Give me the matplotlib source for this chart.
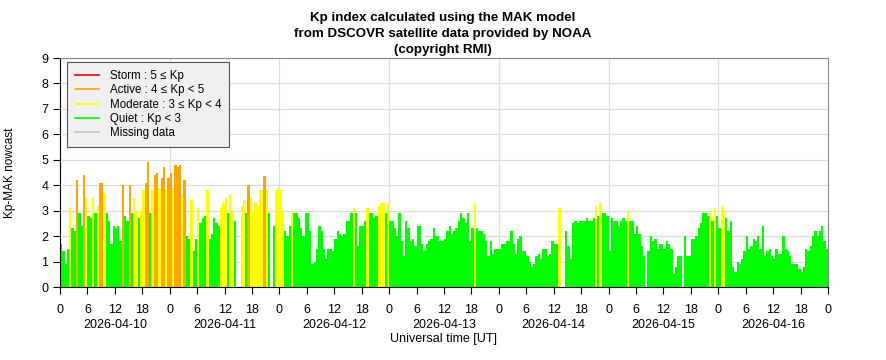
import numpy as np
import matplotlib
matplotlib.use("Agg")
import matplotlib.pyplot as plt
from matplotlib.lines import Line2D

plt.rcParams['font.family'] = ['Liberation Sans', 'DejaVu Sans']

# Kp-MAK nowcast, one value per half hour (nan = missing)
nan = np.nan
days = ["2026-04-10", "2026-04-11", "2026-04-12", "2026-04-13",
        "2026-04-14", "2026-04-15", "2026-04-16"]

kp_0410 = [1.7, 1.4, 0.9, 1.5, 3.1, 2.3, 2.2, 4.2, 2.9, 2.4, 4.4, 3.5,
           2.8, 2.7, 3.5, 2.9, 3.2, 4.1, 4.1, 3.7, 2.9, 2.6, 1.7, 2.4,
           2.3, 2.4, 1.8, 4.0, 2.8, 2.6, 4.0, 2.9, 3.5, 3.0, 2.7, 3.0,
           3.8, 4.1, 4.9, 2.9, 3.8, 4.4, 4.5, 3.9, 4.3, 4.7, 3.8, 4.3]
kp_0411 = [4.5, 3.9, 4.8, 4.7, 4.8, 3.6, 4.2, 2.0, 1.9, 3.4, 1.4, 1.9,
           3.1, 2.5, 2.7, 2.8, 3.8, 1.9, 2.1, 2.7, 2.5, 2.4, 3.1, 3.3,
           3.5, 2.9, 3.6, 3.0, 2.6, nan, nan, 3.2, 3.4, 2.9, 4.0, 3.5,
           3.0, 3.3, 3.2, 3.8, 3.8, 4.35, 3.8, 2.9, nan, 2.4, 3.8, 3.9]
kp_0412 = [3.8, 3.0, 2.2, 2.0, 2.4, 3.0, 2.9, 2.9, 2.7, 2.3, 2.0, 2.9,
           2.9, 2.2, 0.9, 1.0, 1.5, 2.4, 2.2, 1.5, 1.1, 1.5, 1.5, 1.4,
           1.9, 2.2, 2.1, 2.0, 2.1, 2.6, 2.6, 2.9, 3.1, 2.9, 1.6, 2.4,
           2.4, 2.6, 3.1, 2.9, 2.9, 2.7, 2.8, 3.2, 3.3, 3.3, 2.9, 3.3]
kp_0413 = [2.6, 2.6, 2.3, 2.0, 2.9, 1.8, 1.2, 2.6, 2.3, 1.8, 1.9, 1.6,
           2.4, 2.4, 1.7, 1.4, 1.7, 1.8, 1.9, 2.3, 2.0, 2.0, 1.8, 1.8,
           1.9, 2.2, 2.4, 2.1, 2.2, 2.3, 2.6, 2.9, 2.7, 2.5, 2.9, 1.8,
           2.3, 3.3, 2.3, 2.2, 2.2, 2.1, 1.8, 1.2, 1.8, 1.3, 1.5, 1.5]
kp_0414 = [1.5, 1.7, 1.7, 1.8, 1.8, 2.2, 1.7, 1.3, 1.9, 2.0, 1.4, 1.4,
           1.2, 1.0, 0.8, 0.9, 1.2, 1.3, 1.1, 1.5, 1.5, 1.2, 1.3, 1.8,
           1.7, 1.7, 3.1, nan, nan, 2.2, 1.6, 1.1, 2.5, 2.6, 2.5, 2.6,
           2.6, 2.6, 2.7, 2.6, 2.6, 2.7, 3.2, 2.8, 3.3, 2.9, 2.9, 2.8]
kp_0415 = [1.4, 2.7, 2.6, 2.6, 2.4, 2.6, 2.7, 2.6, 3.0, 2.6, 2.6, 2.1,
           2.4, 2.1, 1.6, 1.2, nan, 1.4, 2.0, 1.8, 1.9, 1.5, 1.7, 1.7,
           1.5, 1.8, 1.7, 1.5, 0.5, 0.8, 1.2, 1.2, nan, 2.0, 1.2, 1.2,
           1.9, 1.9, 2.0, 2.3, 2.5, 2.9, 2.9, 2.8, 3.0, 2.6, 3.1, 2.8]
kp_0416 = [2.3, 3.2, 3.0, 2.7, 2.2, 2.6, 0.8, 0.6, 1.0, 0.9, 1.1, 1.4,
           2.0, 1.5, 1.6, 1.9, 1.8, 2.0, 1.5, 2.4, 1.2, 1.4, 1.5, 1.2,
           1.1, 1.5, 1.3, 1.3, 2.0, 1.5, 1.4, 1.2, 0.9, 0.9, 0.9, 0.7,
           0.6, 0.8, 1.5, 1.4, 1.6, 2.0, 2.2, 2.0, 2.2, 2.4, 1.8, 1.5]

levels = ["Storm : 5 \u2264 Kp", "Active : 4 \u2264 Kp < 5",
          "Moderate : 3 \u2264 Kp < 4", "Quiet : Kp < 3", "Missing data"]
level_colours = ["#ff0000", "#ffa500", "#ffff00", "#00ff00", "#c0c0c0"]

kp = np.array(kp_0410 + kp_0411 + kp_0412 + kp_0413 + kp_0414 + kp_0415 + kp_0416)
hours = np.arange(len(kp)) * 0.5


def kp_colour(v):
    if v >= 5:
        return level_colours[0]
    if v >= 4:
        return level_colours[1]
    if v >= 3:
        return level_colours[2]
    return level_colours[3]


ok = ~np.isnan(kp)
fig = plt.figure(figsize=(8.86, 3.60), dpi=100)
ax = fig.add_axes([60 / 886, 1 - 287 / 360, 768 / 886, 229 / 360])

ax.bar(hours[ok], kp[ok], width=0.5, align='edge', linewidth=0,
       color=[kp_colour(v) for v in kp[ok]], zorder=2)

ax.set_xlim(0, 24 * len(days))
ax.set_ylim(0, 9)
ax.set_yticks(range(10))
ax.set_xticks(np.arange(0, 24 * len(days) + 1, 6))
ax.set_xticklabels([str(h % 24) for h in range(0, 24 * len(days) + 1, 6)])
ax.tick_params(axis='both', labelsize=9, length=5, width=0.8, direction='out')
ax.tick_params(axis='x', pad=7)

for y in range(1, 10):
    ax.axhline(y, color='#dddddd', linewidth=0.9, zorder=1)
for d in range(1, len(days)):
    ax.axvline(24 * d, color='#dddddd', linewidth=0.9, zorder=1)

for i, d in enumerate(days):
    ax.text(24 * i + 12, -0.141, d, transform=ax.get_xaxis_transform(),
            ha='center', va='top', fontsize=9)
ax.text(0.5, -0.202, "Universal time [UT]", transform=ax.transAxes,
        ha='center', va='top', fontsize=9)
ax.set_ylabel("Kp-MAK nowcast", fontsize=8.5, labelpad=18)

for s in ['top', 'right']:
    ax.spines[s].set_color('#888888')
for s in ['left', 'bottom']:
    ax.spines[s].set_color('black')

fig.suptitle("Kp index calculated using the MAK model\n"
             "from DSCOVR satellite data provided by NOAA\n(copyright RMI)",
             y=0.966, fontsize=9.65, fontweight='bold', linespacing=1.45)

handles = [Line2D([], [], color=c, linewidth=1.2) for c in level_colours]
leg = ax.legend(handles, levels, loc='upper left', fontsize=8.3, fancybox=False,
                framealpha=1, facecolor='#f0f0f0', edgecolor='#555555',
                handlelength=2.1, handletextpad=0.9, borderpad=0.7,
                labelspacing=0.2, borderaxespad=0,
                bbox_to_anchor=(0.009, 0.983))
leg.get_frame().set_linewidth(0.8)

fig.savefig("out.png", dpi=100)
